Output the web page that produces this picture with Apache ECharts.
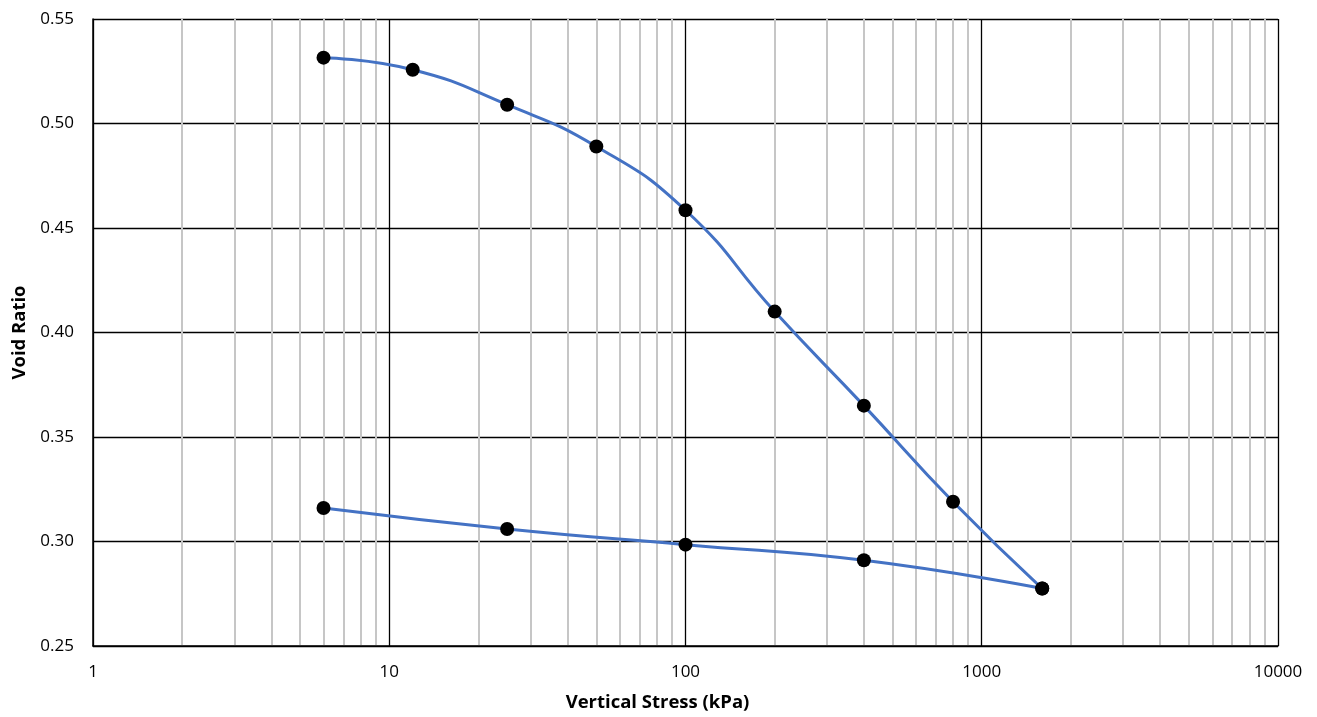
<!DOCTYPE html>
<html>
<head>
<meta charset="utf-8">
<script src="https://cdn.jsdelivr.net/npm/echarts@6/dist/echarts.min.js"></script>
<style>
  html, body { margin: 0; padding: 0; background: #fff; overflow: hidden; }
  #chart { width: 1317px; height: 717px; }
</style>
</head>
<body>
<div id="chart"></div>
<script>
// Oedometer test: loading and unloading branches (void ratio vs. vertical stress)
const loadStress = [6, 12, 25, 50, 100, 200, 400, 800, 1600];
const loadVoid   = [0.5315, 0.5257, 0.509, 0.489, 0.4585, 0.410, 0.365, 0.319, 0.2775];
const unloadStress = [1600, 400, 100, 25, 6];
const unloadVoid   = [0.2775, 0.291, 0.2985, 0.306, 0.316];

// Minor log gridline positions (2..9 within each decade)
const minorGrid = [];
[1, 10, 100, 1000].forEach(d => { for (let k = 2; k <= 9; k++) minorGrid.push(k * d); });

const font = '"Open Sans", Lato, "Liberation Sans", sans-serif';
const chart = echarts.init(document.getElementById('chart'));

const pairs = (xs, ys) => xs.map((x, i) => [x, ys[i]]);

chart.setOption({
  animation: false,
  grid: { left: 93, right: 39, top: 19, bottom: 68 },
  xAxis: {
    type: 'log', logBase: 10, min: 1, max: 10000,
    name: 'Vertical Stress (kPa)', nameLocation: 'middle', nameGap: 47,
    nameTextStyle: { fontFamily: font, fontSize: 18.5, fontWeight: 'bold', color: '#000',
                     padding: [0, 56, 0, 0] },
    axisLine: { show: true, lineStyle: { color: '#000', width: 1.5 } },
    axisTick: { show: false },
    axisLabel: { fontFamily: font, fontSize: 17, color: '#000', margin: 18,
                 formatter: v => String(Math.round(v)) },
    splitLine: { show: true, lineStyle: { color: '#000', width: 1.3 } }
  },
  yAxis: {
    type: 'value', min: 0.25, max: 0.55, interval: 0.05,
    name: 'Void Ratio', nameLocation: 'middle', nameGap: 64,
    nameTextStyle: { fontFamily: font, fontSize: 18.5, fontWeight: 'bold', color: '#000' },
    axisLine: { show: true, lineStyle: { color: '#000', width: 1.5 } },
    axisTick: { show: false },
    axisLabel: { fontFamily: font, fontSize: 17, color: '#000', margin: 19,
                 formatter: v => v.toFixed(2) },
    splitLine: { show: true, lineStyle: { color: '#000', width: 1.3 } }
  },
  series: [
    {
      type: 'line', data: [], silent: true, z: 0,
      markLine: {
        z: 0, silent: true, symbol: ['none', 'none'], label: { show: false },
        lineStyle: { color: '#c6c6c6', width: 2, type: 'solid' },
        emphasis: { disabled: true },
        data: minorGrid.map(v => ({ xAxis: v }))
      }
    },
    {
      name: 'Loading', type: 'line', data: pairs(loadStress, loadVoid), z: 3,
      smooth: 0.5, symbol: 'circle', symbolSize: 14,
      itemStyle: { color: '#000' },
      lineStyle: { color: '#4472C4', width: 3 }
    },
    {
      name: 'Unloading', type: 'line', data: pairs(unloadStress, unloadVoid), z: 3,
      smooth: 0.5, symbol: 'circle', symbolSize: 14,
      itemStyle: { color: '#000' },
      lineStyle: { color: '#4472C4', width: 3 }
    }
  ]
});
</script>
</body>
</html>
